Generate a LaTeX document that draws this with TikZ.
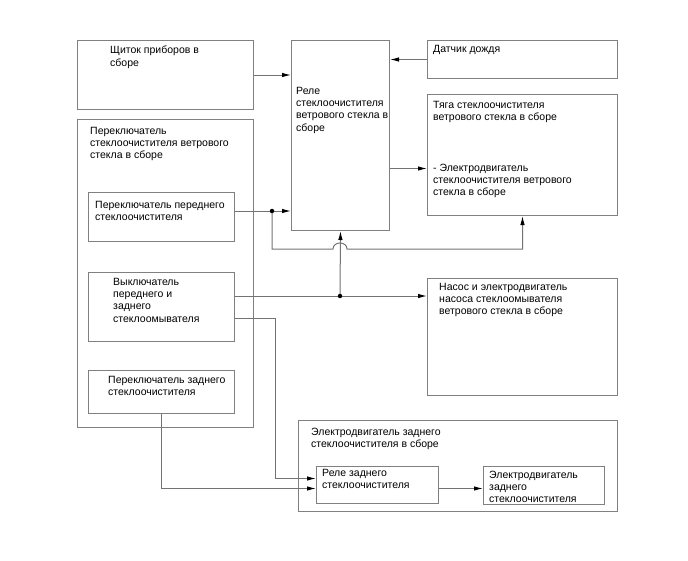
\documentclass[tikz,border=0pt]{standalone}
\usepackage{fontspec}
\setmainfont{Liberation Sans}
\usepackage{xcolor}
\usetikzlibrary{positioning,arrows.meta}

\begin{document}
\begin{tikzpicture}[x=1pt,y=-1pt,
  box/.style={draw=black!50,line width=1pt,anchor=north west,inner sep=0pt},
  lbl/.style={anchor=north west,inner sep=0pt,align=left,
    font=\fontsize{10.5}{12.2}\selectfont},
  wire/.style={draw=black!55,line width=1pt},
  link/.style={wire,-{Latex[length=9pt,width=4.5pt,color=black]}},
  dot/.style={circle,fill=black,inner sep=0pt,minimum size=4.5pt}]
\useasboundingbox (0,0) rectangle (688,560);
% blocks
\node[box,minimum width=176pt,minimum height=69pt] (panel) at (77,40) {};
\node[box,minimum width=98pt,minimum height=190pt] (relay) at (291,40) {};
\node[box,minimum width=190pt,minimum height=38pt] (rain) at (427,40) {};
\node[box,minimum width=190pt,minimum height=121pt] (tyaga) at (427,94) {};
\node[box,minimum width=176pt,minimum height=308pt] (switch) at (77,119) {};
\node[box,minimum width=146pt,minimum height=49pt] (swfront) at (88,192) {};
\node[box,minimum width=146pt,minimum height=69pt] (washer) at (88,272) {};
\node[box,minimum width=146pt,minimum height=43pt] (swrear) at (88,370) {};
\node[box,minimum width=190pt,minimum height=117pt] (pump) at (427,278) {};
\node[box,minimum width=319pt,minimum height=91pt] (rearunit) at (298,420) {};
\node[box,minimum width=122pt,minimum height=37pt] (rearrelay) at (316,466) {};
\node[box,minimum width=121pt,minimum height=38pt] (rearmotor) at (483,466) {};
% texts
\node[lbl] (panel-t) at (110,46) {Щиток приборов в\\сборе};
\node[lbl] (relay-t) at (296,87) {Реле\\стеклоочистителя\\ветрового стекла в\\сборе};
\node[lbl] (rain-t) at (433,45) {Датчик дождя};
\node[lbl] (tyaga-t) at (433,101) {Тяга стеклоочистителя\\ветрового стекла в сборе\\[38.6pt]- Электродвигатель\\стеклоочистителя ветрового\\стекла в сборе};
\node[lbl] (switch-t) at (90,127) {Переключатель\\стеклоочистителя ветрового\\стекла в сборе};
\node[lbl] (swfront-t) at (95,201) {Переключатель переднего\\стеклоочистителя};
\node[lbl] (washer-t) at (113,278) {Выключатель\\переднего и\\заднего\\стеклоомывателя};
\node[lbl] (swrear-t) at (108,376) {Переключатель заднего\\стеклоочистителя};
\node[lbl] (pump-t) at (439,283) {Насос и электродвигатель\\насоса стеклоомывателя\\ветрового стекла в сборе};
\node[lbl] (rearunit-t) at (311,428) {Электродвигатель заднего\\стеклоочистителя в сборе};
\node[lbl] (rearrelay-t) at (322,469) {Реле заднего\\стеклоочистителя};
\node[lbl] (rearmotor-t) at (489,471) {Электродвигатель\\заднего\\стеклоочистителя};
% junctions
\coordinate (jf) at (272,211);
\coordinate (jl) at (272,249);
\coordinate (jw) at (340,296);
\coordinate (bend) at (275,318);
% connectors
\draw[link] (panel.east) -- (panel.east -| relay.west);
\draw[link] (rain.west) -- (rain.west -| relay.east);
\draw[link] ([yshift=-13.5pt]tyaga.west -| relay.east) -- ([yshift=-13.5pt]tyaga.west);
\draw[link] (swfront.east |- jf) -- (jf -| relay.west);
\draw[link] (jf) -- (jl) -- (333,249) .. controls (333,241) and (347,241) .. (347,249)
  -- (jl -| tyaga.south) -- (tyaga.south);
\draw[link] (washer.east |- jw) -- (jw -| pump.west);
\draw[link] (jw) -- (relay.south);
\draw[link] (washer.east |- bend) -- (bend) |- ([yshift=6.5pt]rearrelay.west);
\draw[link] (swrear.south) |- ([yshift=-3.5pt]rearrelay.west);
\draw[link] ([yshift=-3.5pt]rearrelay.east) -- ([yshift=-3.5pt]rearrelay.east -| rearmotor.west);
\node[dot] (jf-d) at (jf) {};
\node[dot] (jw-d) at (jw) {};
\end{tikzpicture}
\end{document}
